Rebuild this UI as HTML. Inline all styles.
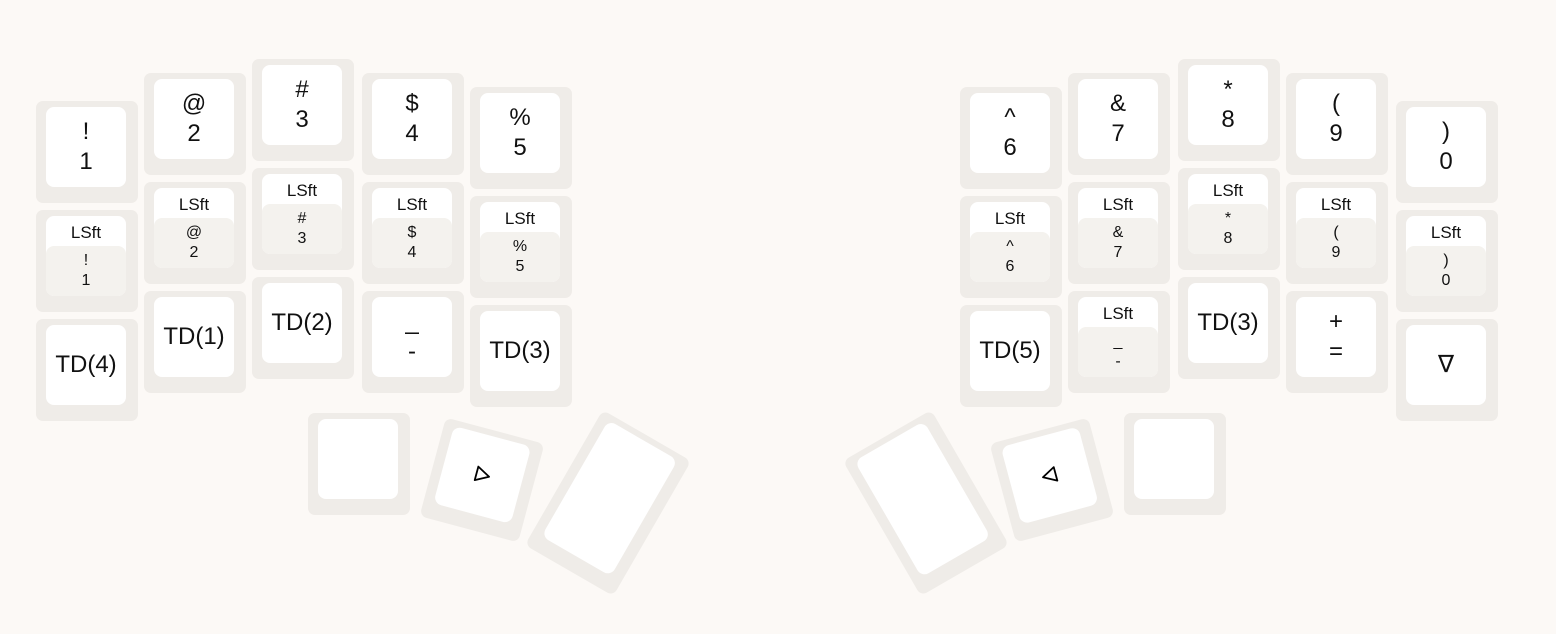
<!DOCTYPE html>
<html><head><meta charset="utf-8">
<style>
html,body{margin:0;padding:0}
body{width:1556px;height:634px;background:#fcf9f6;position:relative;overflow:hidden;font-family:"Liberation Sans","DejaVu Sans",sans-serif;color:#111}
.key{position:absolute;width:102px;height:102px;background:#efece8;border-radius:7px}
.cap{position:absolute;left:10px;top:6px;width:80px;height:80px;background:#fff;border-radius:8px;display:flex;flex-direction:column;align-items:center;justify-content:center;text-align:center}
.big{font-size:24px;line-height:30px}
.hold{position:absolute;left:0;top:0;width:80px;height:30px;font-size:17px;line-height:34px;text-align:center}
.inner{position:absolute;left:0;top:30px;width:80px;height:50px;background:#f4f2ee;border-radius:8px;font-size:16px;line-height:20px;display:flex;flex-direction:column;justify-content:center;align-items:center}
</style></head>
<body>
<div id="kb"></div>
<script>
const colX=[36,144,252,362,470,960,1068,1178,1286,1396];
const colTop=[101,73,59,73,87,87,73,59,73,101];
const rowPitch=109;
// each entry: [tap labels] or ["LSft", labels]
const layers=[
 [["!","1"],["LSft","!","1"],["TD(4)"]],
 [["@","2"],["LSft","@","2"],["TD(1)"]],
 [["#","3"],["LSft","#","3"],["TD(2)"]],
 [["$","4"],["LSft","$","4"],["_","-"]],
 [["%","5"],["LSft","%","5"],["TD(3)"]],
 [["^","6"],["LSft","^","6"],["TD(5)"]],
 [["&","7"],["LSft","&","7"],["LSft","_","-"]],
 [["*","8"],["LSft","*","8"],["TD(3)"]],
 [["(","9"],["LSft","(","9"],["+","="]],
 [[")","0"],["LSft",")","0"],["\u2207"]]
];
const kb=document.getElementById('kb');
function mkKey(x,y,w,h,rot,name){
  const k=document.createElement('div');
  k.className='key';
  
  
  k.style.left=x+'px';k.style.top=y+'px';k.style.width=w+'px';k.style.height=h+'px';
  if(rot){k.style.transform='rotate('+rot+'deg)';}
  const c=document.createElement('div');
  c.className='cap';
  
  
  c.style.width=(w-22)+'px';c.style.height=(h-22)+'px';
  k.appendChild(c);kb.appendChild(k);return c;
}
colX.forEach((x,ci)=>{
  layers[ci].forEach((lab,ri)=>{
    const c=mkKey(x,colTop[ci]+ri*rowPitch,102,102,0,'key-c'+ci+'-r'+ri);
    if(lab[0]==='LSft'){
      const h=document.createElement('div');h.className='hold';h.textContent='LSft';
      
      
      c.appendChild(h);
      const inn=document.createElement('div');inn.className='inner';
      
      
      lab.slice(1).forEach(t=>{const s=document.createElement('div');s.textContent=t;inn.appendChild(s);});
      c.appendChild(inn);
    } else {
      lab.forEach(t=>{const s=document.createElement('div');s.className='big';s.textContent=t;
        
        
        c.appendChild(s);});
    }
  });
});
// thumb cluster
const tri='<svg width="18" height="18" viewBox="0 0 18 18"><polygon points="3,2 16,9 3,16" fill="none" stroke="#000" stroke-width="1.8" stroke-linejoin="round"/></svg>';
const triL='<svg width="18" height="18" viewBox="0 0 18 18"><polygon points="15,2 2,9 15,16" fill="none" stroke="#000" stroke-width="1.8" stroke-linejoin="round"/></svg>';
mkKey(308,413,102,102,0,'left-thumb-1');
let c=mkKey(482-51,480-51,102,102,15,'left-thumb-2');c.innerHTML=tri;
mkKey(608-51,503-78,102,156,30,'left-thumb-3');
mkKey(1124,413,102,102,0,'right-thumb-1');
c=mkKey(1052-51,480-51,102,102,-15,'right-thumb-2');c.innerHTML=triL;
mkKey(926-51,503-78,102,156,-30,'right-thumb-3');
</script>
</body></html>
